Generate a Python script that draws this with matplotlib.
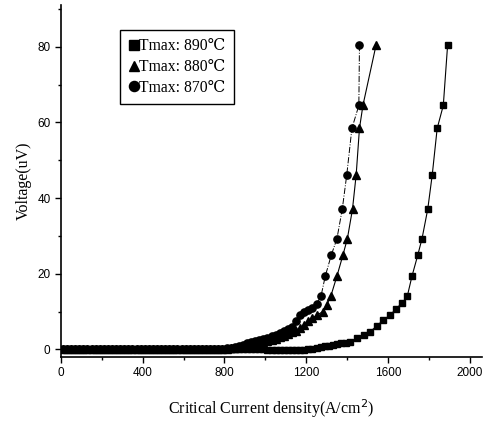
import matplotlib.pyplot as plt
from matplotlib.ticker import MultipleLocator

plt.rcParams['font.family'] = ['Liberation Sans', 'DejaVu Sans']
serif = ['Liberation Serif', 'DejaVu Serif']

# baseline current steps (near zero voltage)
base_x = [10, 30, 50, 70, 90, 110, 130, 150, 170, 190, 210, 230, 250, 270, 290,
          310, 330, 350, 370, 390, 410, 430, 450, 470, 490, 510, 530, 550, 570,
          590, 610, 630, 650, 670, 690, 710, 730, 750, 770, 790]

# Tmax 890C (squares)
sq_x = base_x + [810, 830, 850, 870, 890, 910, 930, 950, 970, 990, 1010, 1030,
                 1050, 1070, 1090, 1110, 1130, 1150, 1170, 1190, 1210, 1230,
                 1250, 1270, 1290, 1310, 1330, 1350, 1370, 1395, 1415, 1447,
                 1480, 1512, 1545, 1577, 1610, 1639, 1670, 1694, 1717, 1745,
                 1766, 1794, 1816, 1840, 1870, 1891]
sq_y = [0.0] * len(base_x) + [0.0, 0.0, 0.0, 0.0, 0.0, 0.0, 0.0, 0.0, 0.0, 0.0,
                              -0.2, -0.2, -0.2, -0.2, -0.2, -0.2, -0.2, -0.2,
                              -0.2, -0.1, 0.0, 0.2, 0.4, 0.6, 0.8, 1.0, 1.2,
                              1.4, 1.6, 1.8, 2.0, 2.9, 3.8, 4.7, 6.2, 7.8, 9.1,
                              10.7, 12.4, 14.1, 19.4, 24.9, 29.3, 37.1, 46.2,
                              58.4, 64.5, 80.4]

# Tmax 880C (triangles)
tri_x = base_x + [810, 830, 850, 870, 890, 910, 930, 950, 970, 990, 1010, 1030,
                  1050, 1070, 1090, 1110, 1130, 1150, 1170, 1190, 1210, 1230,
                  1250, 1281, 1300, 1320, 1350, 1379, 1401, 1426, 1444, 1460,
                  1477, 1541]
tri_y = [0.0] * len(base_x) + [0.2, 0.3, 0.4, 0.6, 0.8, 1.0, 1.2, 1.4, 1.6,
                               1.9, 2.2, 2.5, 2.8, 3.2, 3.6, 4.0, 4.5, 5.0,
                               5.6, 6.5, 7.5, 8.3, 9.0, 10.0, 11.8, 14.1,
                               19.4, 24.9, 29.3, 37.1, 46.2, 58.4, 64.5, 80.4]

# Tmax 870C (circles)
cir_x = base_x + [810, 830, 850, 870, 890, 910, 930, 950, 970, 990, 1010, 1030,
                  1050, 1070, 1090, 1110, 1130, 1150, 1170, 1190, 1210, 1230,
                  1250, 1272, 1293, 1322, 1350, 1376, 1398, 1423, 1457, 1460]
cir_y = [0.0] * len(base_x) + [0.3, 0.5, 0.7, 1.0, 1.3, 1.6, 1.9, 2.2, 2.5,
                               2.8, 3.1, 3.5, 3.9, 4.3, 4.8, 5.3, 6.0, 7.5,
                               9.0, 10.0, 10.3, 11.0, 12.0, 14.1, 19.4, 24.9,
                               29.3, 37.1, 46.2, 58.4, 64.5, 80.4]

labels = ['Tmax: 890\u2103', 'Tmax: 880\u2103', 'Tmax: 870\u2103']

fig = plt.figure(figsize=(4.91, 4.26), dpi=100)
ax = fig.add_axes([0.124, 0.162, 0.858, 0.826])

ax.plot(sq_x, sq_y, 'k-', marker='s', markersize=4.8, linewidth=0.8, label=labels[0])
ax.plot(tri_x, tri_y, 'k-', marker='^', markersize=5.5, linewidth=0.8, label=labels[1])
ax.plot(cir_x, cir_y, 'k-.', marker='o', markersize=5.2, linewidth=0.7, label=labels[2])

ax.set_xlim(0, 2060)
ax.set_ylim(-2, 91)
ax.spines['top'].set_visible(False)
ax.spines['right'].set_visible(False)
ax.spines['left'].set_linewidth(1.2)
ax.spines['bottom'].set_linewidth(1.2)

ax.xaxis.set_major_locator(MultipleLocator(400))
ax.xaxis.set_minor_locator(MultipleLocator(200))
ax.yaxis.set_major_locator(MultipleLocator(20))
ax.yaxis.set_minor_locator(MultipleLocator(10))
ax.tick_params(which='major', length=4, width=1, labelsize=8.5)
ax.tick_params(which='minor', length=2.5, width=1)

ax.set_xlabel('Critical Current density(A/cm$^2$)', family=serif, fontsize=11.5, labelpad=13)
ax.set_ylabel('Voltage(uV)', family=serif, fontsize=11.5, labelpad=4)

leg = ax.legend(loc='upper left', bbox_to_anchor=(0.14, 0.93), borderaxespad=0,
                handlelength=0.7, handletextpad=0.0, labelspacing=0.3,
                fancybox=False, edgecolor='black', framealpha=1,
                prop={'family': serif, 'size': 11.3}, markerscale=1.4,
                borderpad=0.55)
leg.get_frame().set_linewidth(1.0)
for h in leg.legend_handles:
    h.set_linestyle('None')

fig.savefig('out.png', dpi=100)
